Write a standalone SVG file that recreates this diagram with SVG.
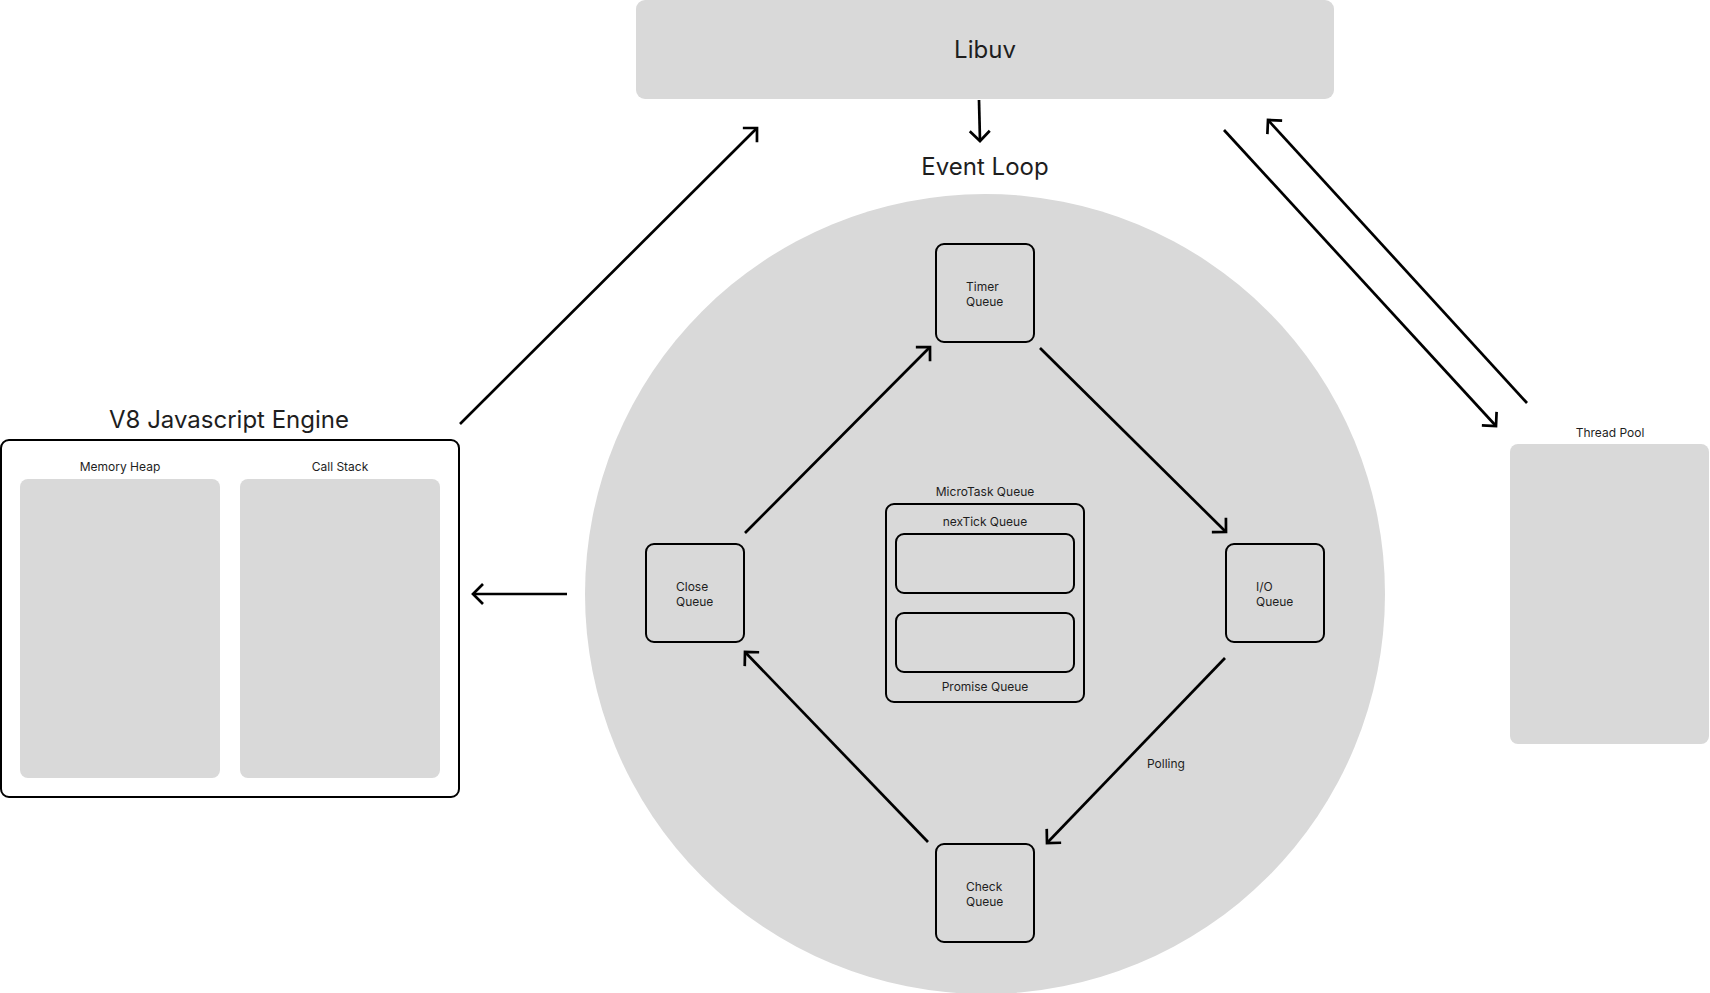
<svg xmlns="http://www.w3.org/2000/svg" width="1710" height="993" viewBox="0 0 1710 993">
<style>
text{font-family:Inter,"Liberation Sans",sans-serif;fill:#1e1e1e}
.big{font-size:24px;text-anchor:middle}
.sm{font-size:12px}
.mid{text-anchor:middle}
.gray{fill:#d9d9d9}
.box{fill:#d9d9d9;stroke:#000;stroke-width:2}
.wbox{fill:#fff;stroke:#000;stroke-width:2}
.arr{stroke:#000;stroke-width:2.7;fill:none;marker-end:url(#ah)}
</style>
<defs>
<marker id="ah" markerUnits="userSpaceOnUse" markerWidth="30" markerHeight="30" refX="15" refY="15" orient="auto" overflow="visible">
<path d="M5,5 L15,15 L5,25" fill="none" stroke="#000" stroke-width="2.7"/>
</marker>
</defs>
<rect width="1710" height="993" fill="#fff"/>
<g id="libuv">
<rect class="gray" x="636" y="0" width="698" height="99" rx="9"/>
<text class="big" x="985" y="58">Libuv</text>
</g>
<g id="event-loop">
<text class="big" x="985" y="175">Event Loop</text>
<circle class="gray" cx="985" cy="594" r="400"/>
</g>
<g id="timer-queue">
<rect class="box" x="936" y="244" width="98" height="98" rx="8"/>
<text class="sm" x="966" y="291">Timer</text>
<text class="sm" x="966" y="306">Queue</text>
</g>
<g id="io-queue">
<rect class="box" x="1226" y="544" width="98" height="98" rx="8"/>
<text class="sm" x="1256" y="591">I/O</text>
<text class="sm" x="1256" y="606">Queue</text>
</g>
<g id="check-queue">
<rect class="box" x="936" y="844" width="98" height="98" rx="8"/>
<text class="sm" x="966" y="891">Check</text>
<text class="sm" x="966" y="906">Queue</text>
</g>
<g id="close-queue">
<rect class="box" x="646" y="544" width="98" height="98" rx="8"/>
<text class="sm" x="676" y="591">Close</text>
<text class="sm" x="676" y="606">Queue</text>
</g>
<g id="microtask-queue">
<text class="sm mid" x="985" y="496">MicroTask Queue</text>
<rect class="box" x="886" y="504" width="198" height="198" rx="8"/>
<text class="sm mid" x="985" y="526">nexTick Queue</text>
<rect class="box" x="896" y="534" width="178" height="59" rx="8"/>
<rect class="box" x="896" y="613" width="178" height="59" rx="8"/>
<text class="sm mid" x="985" y="691">Promise Queue</text>
</g>
<g id="v8-engine">
<text class="big" x="229" y="428">V8 Javascript Engine</text>
<rect class="wbox" x="1" y="440" width="458" height="357" rx="8"/>
<text class="sm mid" x="120" y="471">Memory Heap</text>
<rect class="gray" x="20" y="479" width="200" height="299" rx="8"/>
<text class="sm mid" x="340" y="471">Call Stack</text>
<rect class="gray" x="240" y="479" width="200" height="299" rx="8"/>
</g>
<g id="thread-pool">
<text class="sm mid" x="1610" y="437">Thread Pool</text>
<rect class="gray" x="1510" y="444" width="199" height="300" rx="8"/>
</g>
<g id="connectors">
<line class="arr" x1="979" y1="100" x2="980" y2="141"/>
<line class="arr" x1="460" y1="424" x2="757" y2="128"/>
<line class="arr" x1="1224" y1="130" x2="1496" y2="426"/>
<line class="arr" x1="1527" y1="403" x2="1268" y2="120"/>
<line class="arr" x1="567" y1="594" x2="473" y2="594"/>
<line class="arr" x1="745" y1="533" x2="930" y2="347"/>
<line class="arr" x1="1040" y1="348" x2="1226" y2="532"/>
<line class="arr" x1="1225" y1="658" x2="1047" y2="843"/>
<line class="arr" x1="928" y1="842" x2="745" y2="652"/>
<text class="sm" x="1147" y="768">Polling</text>
</g>
</svg>
